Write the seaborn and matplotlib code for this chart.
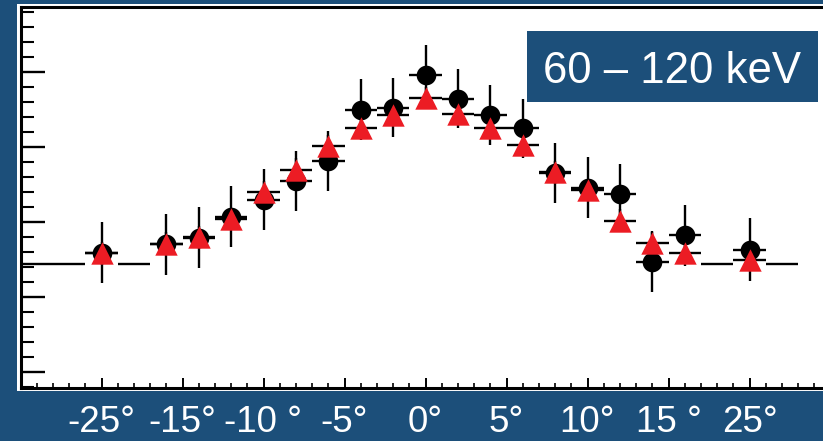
import numpy as np
import pandas as pd
import matplotlib
matplotlib.use("Agg")
import matplotlib.pyplot as plt
import seaborn as sns
from matplotlib.ticker import MultipleLocator
from matplotlib.patches import Rectangle

BG  = "#1c4f7a"
RED = "#ec1c24"

# angular bins (axis units) and measured / simulated rates
angle_bins = [-20, -16, -14, -12, -10, -8, -6, -4, -2, 0,
              2, 4, 6, 8, 10, 12, 14, 16, 20]
data_rate  = [2.59, 2.70, 2.79, 3.07, 3.30, 3.55, 3.81, 4.50, 4.53, 4.97,
              4.65, 4.43, 4.25, 3.66, 3.46, 3.38, 2.47, 2.82, 2.63]
data_err   = [0.41, 0.41, 0.41, 0.41, 0.41, 0.40, 0.40, 0.41, 0.40, 0.40,
              0.40, 0.40, 0.40, 0.40, 0.41, 0.40, 0.41, 0.41, 0.42]
sim_rate   = [2.58, 2.71, 2.80, 3.04, 3.40, 3.70, 4.01, 4.26, 4.43, 4.66,
              4.45, 4.26, 4.03, 3.67, 3.43, 3.02, 2.72, 2.59, 2.49]
sim_err    = [0.15] * 19
bin_half   = 1.0

# flat background level, drawn only in the outer bins
flat_bins  = [-24, -22, -18, 18, 22]
flat_level = 2.44

tick_pos    = [-20, -15, -10, -5, 0, 5, 10, 15, 20]
tick_labels = ["-25°", "-15°", "-10 °", "-5°", "0°", "5°", "10°", "15 °", "25°"]
band_label  = "60 – 120 keV"

sns.set_style("white")
plt.rcParams["font.family"] = ["Liberation Sans", "DejaVu Sans"]

W, H = 823, 441
fig = plt.figure(figsize=(W / 100, H / 100), dpi=100, facecolor=BG)

# white pad behind the frame
fig.patches.append(Rectangle((17.3 / W, 1 - 390.7 / H), 1, (390.7 - 4) / H,
                             transform=fig.transFigure, facecolor="white",
                             edgecolor="none", zorder=-5))

ax = fig.add_axes([20.5 / W, 1 - 388 / H, 810 / W, (388 - 6.5) / H])
ax.set_facecolor("white")

df_data = pd.DataFrame({"angle": angle_bins, "rate": data_rate, "err": data_err})
df_sim  = pd.DataFrame({"angle": angle_bins, "rate": sim_rate, "err": sim_err})

ax.errorbar(flat_bins, [flat_level] * len(flat_bins), xerr=bin_half,
            fmt="none", ecolor="black", elinewidth=1.7, zorder=2)
ax.errorbar(df_data["angle"], df_data["rate"], xerr=bin_half, yerr=df_data["err"],
            fmt="none", ecolor="black", elinewidth=1.7, zorder=2)
sns.scatterplot(data=df_data, x="angle", y="rate", ax=ax, color="black",
                marker="o", s=200, linewidth=0, zorder=3)
ax.errorbar(df_sim["angle"], df_sim["rate"], xerr=bin_half, yerr=df_sim["err"],
            fmt="none", ecolor="black", elinewidth=1.7, zorder=4)
sns.scatterplot(data=df_sim, x="angle", y="rate", ax=ax, color=RED,
                marker="^", s=260, linewidth=0, zorder=5)

ax.set_xlim(-25, 25)
ax.set_ylim(0.782, 5.88)
ax.set_xlabel("")
ax.set_ylabel("")

ax.set_xticks(tick_pos, tick_labels)
ax.xaxis.set_minor_locator(MultipleLocator(1))
ax.yaxis.set_major_locator(MultipleLocator(1))
ax.yaxis.set_minor_locator(MultipleLocator(0.2))
ax.tick_params(axis="x", which="both", bottom=True, top=False, color="black")
ax.tick_params(axis="y", which="both", left=True, right=False, color="black")
ax.tick_params(axis="x", which="major", direction="in", length=7.2, width=1.4,
               pad=12.5, labelsize=26.5, labelcolor="white")
ax.tick_params(axis="x", which="minor", direction="in", length=3.4, width=1.2)
ax.tick_params(axis="y", which="major", direction="in", length=17.3, width=1.7,
               labelleft=False)
ax.tick_params(axis="y", which="minor", direction="in", length=9.4, width=1.5)

for side in ["left", "bottom", "top"]:
    ax.spines[side].set_color("black")
    ax.spines[side].set_linewidth(2.2)
ax.spines["right"].set_visible(False)

# energy band label box
fig.patches.append(Rectangle((527 / W, 1 - 101.7 / H), 291 / W, 70.7 / H,
                             transform=fig.transFigure, facecolor=BG,
                             edgecolor="none", zorder=10))
fig.text(672 / W, 1 - 83.3 / H, band_label, color="white", fontsize=31.5,
         ha="center", va="baseline", zorder=11)

fig.savefig("out.png", dpi=100, facecolor=BG)
